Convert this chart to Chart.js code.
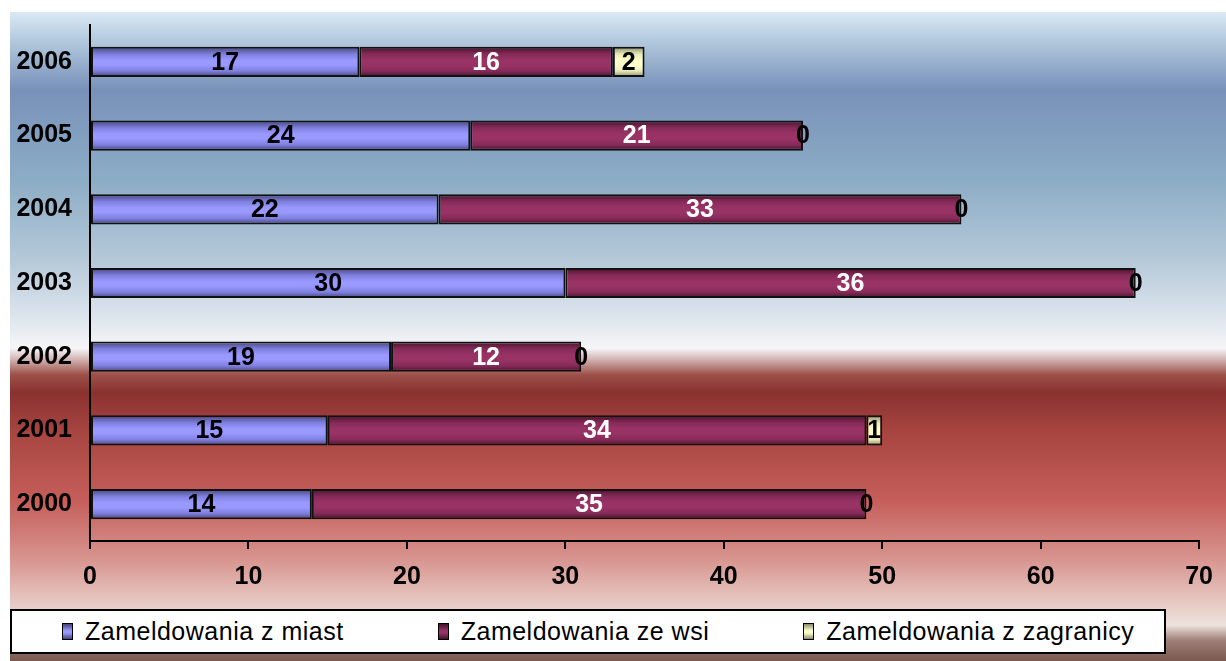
<!DOCTYPE html>
<html>
<head>
<meta charset="utf-8">
<script src="https://cdn.jsdelivr.net/npm/chart.js@4.4.0/dist/chart.umd.min.js"></script>
<style>
  html, body { margin: 0; padding: 0; background: #fff; }
  #wrap { position: relative; width: 1226px; height: 661px; }
  #legend {
    position: absolute; left: 10px; top: 609px; width: 1156px; height: 45px;
    box-sizing: border-box; background: #fff; border: 2px solid #000;
    display: flex; align-items: center; padding-left: 50px; white-space: nowrap;
    font: 25px "Liberation Sans", Arial, sans-serif; letter-spacing: 0.5px; color: #000;
  }
  .item { display: flex; align-items: center; flex-shrink: 0; margin-right: 94px; }
  .sw { width: 9px; height: 15px; border: 1px solid #000; margin-right: 12px; flex-shrink: 0; }
</style>
</head>
<body>
<div id="wrap">
  <canvas id="chart" width="1226" height="661"></canvas>
  <div id="legend"></div>
</div>
<script>
// data
const years = ['2000', '2001', '2002', '2003', '2004', '2005', '2006'];
const fromCities = [14, 15, 19, 30, 22, 24, 17];
const fromVillages = [35, 34, 12, 36, 33, 21, 16];
const fromAbroad = [0, 1, 0, 0, 0, 0, 2];
const seriesNames = ['Zameldowania z miast', 'Zameldowania ze wsi', 'Zameldowania z zagranicy'];

// bar shading: edge, mid, centre
const shades = [
  ['#44447a', '#8080e0', '#9999ff'],
  ['#45122c', '#872b59', '#993366'],
  ['#8a8a68', '#eaeab8', '#ffffcc']
];
const labelColors = ['#000', '#fff', '#000'];
const barPct = 0.41;
const boldFont = { family: '"Liberation Sans", Arial, sans-serif', size: 25, weight: 'bold' };

function barFill(s) {
  return (ctx) => {
    const chart = ctx.chart;
    const y = chart.scales.y;
    if (!chart.chartArea || !y) return s[2];
    const mid = y.getPixelForValue(ctx.dataIndex);
    const h = y.height / years.length * barPct;
    const g = chart.ctx.createLinearGradient(0, mid - h / 2, 0, mid + h / 2);
    g.addColorStop(0, s[0]);
    g.addColorStop(0.25, s[1]);
    g.addColorStop(0.45, s[2]);
    g.addColorStop(0.6, s[2]);
    g.addColorStop(0.8, s[1]);
    g.addColorStop(1, s[0]);
    return g;
  };
}

// background panel, blue sky above, red below
const bgStops = [
  [0, '#dbe9f5'], [0.043, '#b3cade'], [0.12, '#7891b9'], [0.26, '#8cadc6'],
  [0.38, '#b4c8d8'], [0.475, '#dfe6ee'], [0.518, '#f6f6f8'], [0.533, '#d8bcbc'],
  [0.559, '#9c5048'], [0.586, '#8a3230'], [0.644, '#a6443f'], [0.752, '#c55e5a'],
  [0.844, '#d89590'], [0.906, '#e6c6c0'], [0.945, '#ece2dc'], [0.968, '#a08078'],
  [1, '#7a5850']
];
const bgPlugin = {
  id: 'bg',
  beforeDraw(chart) {
    const c = chart.ctx;
    c.save();
    const g = c.createLinearGradient(0, 12, 0, 661);
    bgStops.forEach(s => g.addColorStop(s[0], s[1]));
    c.fillStyle = g;
    c.fillRect(10, 12, 1216, 649);
    c.restore();
  }
};

const valuePlugin = {
  id: 'values',
  afterDatasetsDraw(chart) {
    const c = chart.ctx;
    c.save();
    c.font = 'bold 25px "Liberation Sans", Arial, sans-serif';
    c.textAlign = 'center';
    c.textBaseline = 'middle';
    chart.data.datasets.forEach((ds, i) => {
      chart.getDatasetMeta(i).data.forEach((bar, j) => {
        c.fillStyle = labelColors[i];
        c.fillText(ds.data[j], (bar.x + bar.base) / 2, bar.y + 1);
      });
    });
    c.restore();
  }
};

const series = [fromCities, fromVillages, fromAbroad];
new Chart(document.getElementById('chart'), {
  type: 'bar',
  data: {
    labels: years,
    datasets: series.map((d, i) => ({
      label: seriesNames[i],
      data: d,
      backgroundColor: barFill(shades[i]),
      borderColor: '#111',
      borderWidth: 2,
      borderSkipped: false,
      barPercentage: barPct,
      categoryPercentage: 1
    }))
  },
  options: {
    indexAxis: 'y',
    responsive: false,
    animation: false,
    devicePixelRatio: 1,
    layout: { autoPadding: false, padding: { left: 10, top: 25, right: 25, bottom: 50 } },
    plugins: { legend: { display: false }, tooltip: { enabled: false } },
    scales: {
      x: {
        stacked: true, min: 0, max: 70,
        ticks: { stepSize: 10, color: '#000', font: boldFont, padding: 13 },
        grid: { drawOnChartArea: false, drawTicks: true, tickLength: 8, color: '#000', lineWidth: 2 },
        border: { color: '#000', width: 2 },
        afterFit(s) { s.height = 70; }
      },
      y: {
        stacked: true, reverse: true,
        ticks: { color: '#000', font: boldFont, padding: 18 },
        grid: { display: false, drawTicks: false },
        border: { color: '#000', width: 2 },
        afterFit(s) { s.width = 80; s.paddingTop = 0; s.paddingBottom = 0; }
      }
    }
  },
  plugins: [bgPlugin, valuePlugin]
});

// legend
const legend = document.getElementById('legend');
seriesNames.forEach((name, i) => {
  const s = shades[i];
  const item = document.createElement('div');
  item.className = 'item';
  item.innerHTML = '<span class="sw" style="background:linear-gradient(' + s[0] + ',' + s[2] + ' 45%,' + s[2] + ' 60%,' + s[0] + ')"></span><span>' + name + '</span>';
  legend.appendChild(item);
});
</script>
</body>
</html>
